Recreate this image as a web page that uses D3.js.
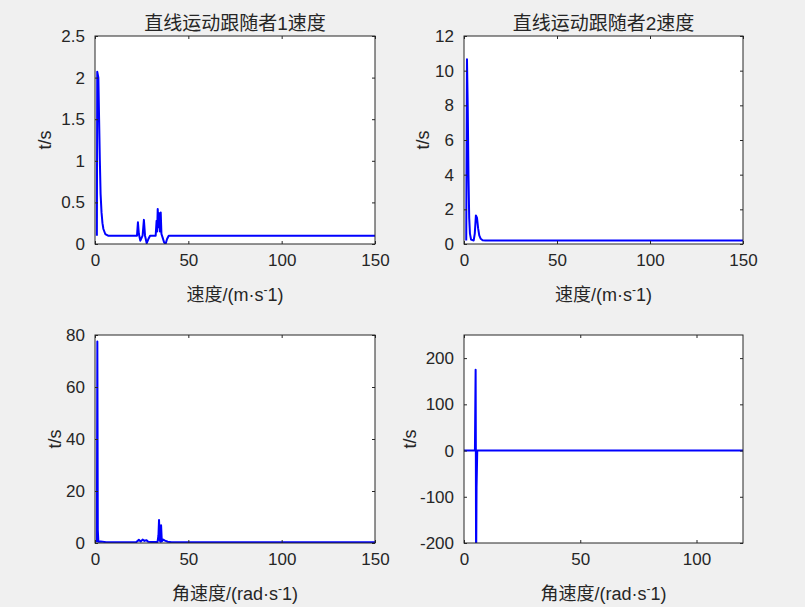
<!DOCTYPE html>
<html><head><meta charset="utf-8">
<script src="https://cdn.jsdelivr.net/npm/d3@7/dist/d3.min.js"></script>
<style>
html,body{margin:0;padding:0;background:#f0f0f0;}
svg{display:block;}
text{font-family:"Liberation Sans",Arial,"Noto Sans CJK SC",sans-serif;fill:#262626;}
</style></head>
<body>
<svg id="c" width="805" height="607"></svg>
<script>
// ---- data ----
const titles = ["直线运动跟随者1速度", "直线运动跟随者2速度", "", ""];
// x labels: [main part, superscript, trailing part]
const xLabels = [["速度/(m·s", "-", "1)"], ["速度/(m·s", "-", "1)"], ["角速度/(rad·s", "-", "1)"], ["角速度/(rad·s", "-", "1)"]];
const yLabel = "t/s";

const xTicks1 = [0, 50, 100, 150];
const xTicks4 = [0, 50, 100];
const yTicks1 = [0, 0.5, 1, 1.5, 2, 2.5];
const yTicks2 = [0, 2, 4, 6, 8, 10, 12];
const yTicks3 = [0, 20, 40, 60, 80];
const yTicks4 = [-200, -100, 0, 100, 200];

const s1T = [1.0, 1.2, 1.8, 2.2, 2.6, 3.0, 3.5, 4.0, 4.5, 5.5, 7.0, 22.5, 23.0, 23.5, 24.3, 25.5, 26.2, 26.8, 27.7, 28.6, 29.5, 32.5, 33.0, 33.3, 33.6, 34.0, 34.4, 34.8, 35.2, 35.6, 36.2, 37.0, 37.8, 38.6, 39.5, 40.5, 150];
const s1V = [0.1, 2.07, 2.0, 1.5, 1.0, 0.6, 0.38, 0.25, 0.18, 0.12, 0.1, 0.1, 0.26, 0.12, 0.04, 0.1, 0.29, 0.1, 0.01, 0.06, 0.1, 0.1, 0.28, 0.15, 0.42, 0.2, 0.37, 0.15, 0.38, 0.12, 0.08, 0.02, 0.0, 0.06, 0.1, 0.1, 0.1];

const s2T = [1.2, 1.6, 2.0, 2.4, 2.8, 3.2, 3.8, 5.2, 5.8, 6.4, 7.0, 7.6, 8.2, 9.0, 10, 11.5, 150];
const s2V = [0.2, 10.66, 8.0, 4.0, 1.5, 0.6, 0.25, 0.2, 0.6, 1.65, 1.5, 0.9, 0.5, 0.3, 0.22, 0.2, 0.2];

const s3T = [1.0, 1.25, 1.5, 1.8, 3, 6, 8, 22, 23.5, 24.5, 25.5, 26.5, 27.5, 28.5, 30, 33.5, 34.0, 34.3, 34.7, 35.1, 35.4, 35.8, 36.5, 37.5, 39, 41, 150];
const s3V = [0.3, 77.5, 5, 0.5, 0.6, 0.3, 0.3, 0.3, 1.2, 0.6, 1.3, 0.8, 1.1, 0.5, 0.4, 0.4, 3, 8.8, 1.0, 0.5, 6.8, 0.6, 1.3, 0.9, 0.5, 0.3, 0.3];

const s4T = [0, 4.7, 4.9, 5.0, 5.1, 5.2, 5.4, 5.7, 120];
const s4V = [0, 0, 120, 175, 0, -260, -80, 0, 0];

// ---- layout ----
const svg = d3.select("#c");
const panels = [
  {x0:95, x1:375, y0:36, y1:244, xd:[0,150], yd:[0,2.5], xt:xTicks1, yt:yTicks1, t:s1T, v:s1V, ylx:45},
  {x0:464, x1:743, y0:36, y1:244, xd:[0,150], yd:[0,12], xt:xTicks1, yt:yTicks2, t:s2T, v:s2V, ylx:423},
  {x0:95, x1:375, y0:335, y1:543, xd:[0,150], yd:[0,80], xt:xTicks1, yt:yTicks3, t:s3T, v:s3V, ylx:55},
  {x0:464, x1:743, y0:335, y1:543, xd:[0,120], yd:[-200,250], xt:xTicks4, yt:yTicks4, t:s4T, v:s4V, ylx:410}
];

panels.forEach((p, i) => {
  const x = d3.scaleLinear().domain(p.xd).range([p.x0, p.x1]);
  const y = d3.scaleLinear().domain(p.yd).range([p.y1, p.y0]);
  const g = svg.append("g");
  g.append("rect").attr("x", p.x0).attr("y", p.y0).attr("width", p.x1 - p.x0).attr("height", p.y1 - p.y0).attr("fill", "#fff");

  const clipId = "clip" + i;
  svg.append("clipPath").attr("id", clipId).append("rect")
    .attr("x", p.x0).attr("y", p.y0).attr("width", p.x1 - p.x0).attr("height", p.y1 - p.y0);

  const data = p.t.map((t, k) => [t, p.v[k]]);
  g.append("path").datum(data)
    .attr("clip-path", "url(#" + clipId + ")")
    .attr("fill", "none").attr("stroke", "#0000ff").attr("stroke-width", 2)
    .attr("stroke-linejoin", "round")
    .attr("d", d3.line().x(d => x(d[0])).y(d => y(d[1])));

  const tl = 3;
  const fmt = d => String(d);
  const ax = g.append("g").attr("transform", `translate(0,${p.y1})`)
    .call(d3.axisBottom(x).tickValues(p.xt).tickFormat(fmt).tickSizeInner(-tl).tickSizeOuter(0).tickPadding(10));
  const ay = g.append("g").attr("transform", `translate(${p.x0},0)`)
    .call(d3.axisLeft(y).tickValues(p.yt).tickFormat(fmt).tickSizeInner(-tl).tickSizeOuter(0).tickPadding(10));
  const at = g.append("g").attr("transform", `translate(0,${p.y0})`)
    .call(d3.axisTop(x).tickValues(p.xt).tickFormat("").tickSizeInner(-tl).tickSizeOuter(0));
  const ar = g.append("g").attr("transform", `translate(${p.x1},0)`)
    .call(d3.axisRight(y).tickValues(p.yt).tickFormat("").tickSizeInner(-tl).tickSizeOuter(0));
  [ax, ay, at, ar].forEach(a => {
    a.selectAll(".domain").remove();
    a.selectAll("line").attr("stroke", "#262626");
    a.selectAll("text").attr("font-size", 17).attr("fill", "#262626")
      .attr("font-family", '"Liberation Sans",Arial,sans-serif');
  });
  g.append("rect").attr("x", p.x0).attr("y", p.y0).attr("width", p.x1 - p.x0).attr("height", p.y1 - p.y0)
    .attr("fill", "none").attr("stroke", "#262626").attr("stroke-width", 1);

  if (titles[i]) {
    g.append("text").attr("x", (p.x0 + p.x1) / 2).attr("y", p.y0 - 6)
      .attr("text-anchor", "middle").attr("font-size", 19).text(titles[i]);
  }
  const xl = g.append("text").attr("x", (p.x0 + p.x1) / 2).attr("y", p.y1 + 57)
    .attr("text-anchor", "middle").attr("font-size", 18);
  xl.append("tspan").text(xLabels[i][0]);
  xl.append("tspan").attr("dy", -7).attr("font-size", 12).text(xLabels[i][1]);
  xl.append("tspan").attr("dy", 7).text(xLabels[i][2]);
  g.append("text").attr("transform", `translate(${p.ylx},${(p.y0 + p.y1) / 2}) rotate(-90)`)
    .attr("text-anchor", "middle").attr("dy", "0.35em").attr("font-size", 18).text(yLabel);
});
</script>
</body></html>
